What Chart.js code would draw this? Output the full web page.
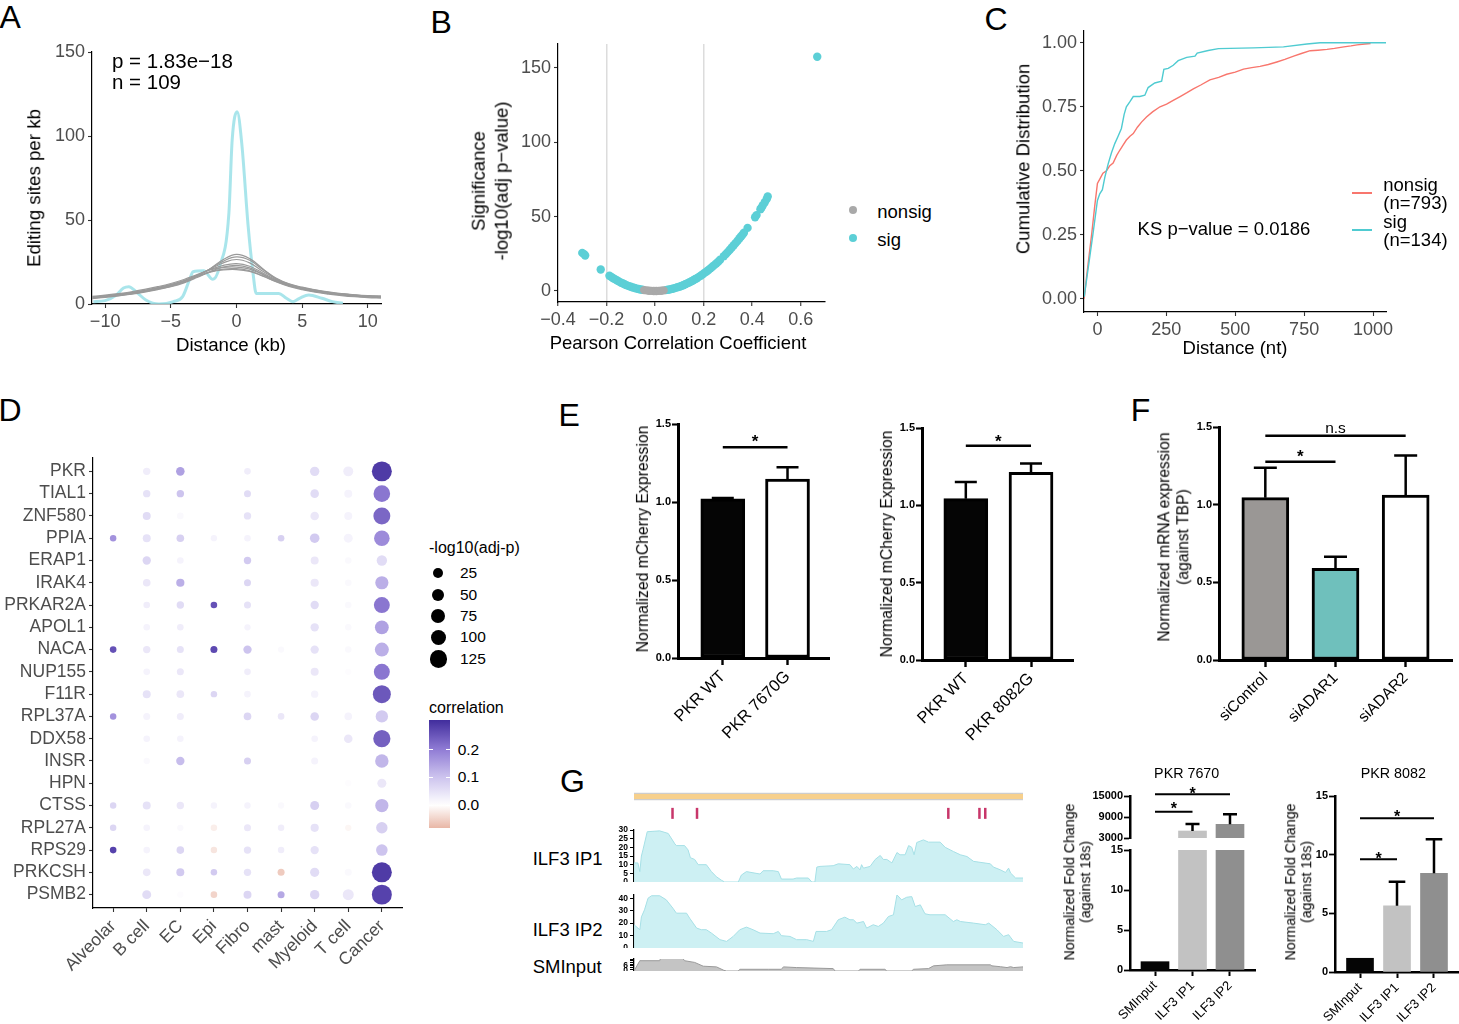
<!DOCTYPE html>
<html>
<head>
<meta charset="utf-8">
<script src="https://cdn.jsdelivr.net/npm/chart.js@4/dist/chart.umd.min.js"></script>
<style>
html, body { margin: 0; padding: 0; background: #fff; }
#fig { position: relative; width: 1459px; height: 1024px; overflow: hidden; background: #fff;
       font-family: 'Liberation Sans', Arial, Helvetica, sans-serif; color: #000; }
#fig canvas { position: absolute; }
.lbl { position: absolute; white-space: pre; z-index: 2; text-align: center; }
.letter { position: absolute; font-size: 32px; line-height: 32px; z-index: 2; }
.mark { position: absolute; z-index: 2; }
</style>
</head>
<body>
<div id="fig"></div>
<script>
// ---------- A: editing sites around ILF3 peaks vs shuffled peaks ----------
const distKb = [-11, -10, -9, -8, -7, -6, -5, -4, -3, -2, -1, 0, 1, 2, 3, 4, 5, 6, 7, 8, 9, 10, 11];
const shuffled1 = [3.5, 4.2, 5, 6, 7.3, 8.8, 10.5, 13, 16.5, 21, 26.5, 29.5, 27, 21, 15, 11.5, 9.5, 8, 6.8, 6, 5.3, 4.8, 4.5];
const shuffled2 = [3.8, 4.5, 5.3, 6.3, 7.6, 9, 10.8, 13.3, 16.8, 21, 25.5, 28, 26, 20.5, 15.5, 12, 10, 8.5, 7.2, 6.2, 5.5, 5, 4.7];
const shuffled3 = [4, 4.7, 5.5, 6.5, 7.8, 9.3, 11, 13.5, 17, 20.8, 24.5, 26.5, 24.5, 19.5, 15, 11.8, 9.8, 8.3, 7, 6, 5.3, 4.8, 4.5];
const shuffled4 = [4.2, 4.9, 5.8, 6.9, 8.2, 9.8, 11.6, 14, 17.2, 20.5, 23, 24, 22.5, 18.5, 14.5, 11.5, 9.5, 8, 6.8, 5.8, 5.1, 4.6, 4.3];
const shuffled5 = [3.2, 4, 4.8, 5.8, 7.1, 8.6, 10.3, 12.6, 15.8, 19.3, 22, 23, 21.5, 17.8, 14, 11, 9, 7.5, 6.3, 5.4, 4.7, 4.2, 3.9];
const shuffled6 = [4.5, 5.3, 6.2, 7.3, 8.7, 10.3, 12.2, 14.6, 17.5, 20.3, 21.8, 22, 20.8, 17.5, 14, 11.2, 9.2, 7.8, 6.6, 5.7, 5, 4.5, 4.2];
const shuffled7 = [3.5, 4.3, 5.2, 6.2, 7.5, 9, 10.8, 13.2, 16.2, 19.2, 20.8, 21, 19.8, 16.8, 13.3, 10.5, 8.5, 7, 5.9, 5, 4.3, 3.8, 3.5];
const shuffled8 = [4, 4.8, 5.7, 6.7, 8, 9.6, 11.5, 13.8, 16.5, 19, 20.3, 20.5, 19.4, 16.6, 13.5, 10.8, 8.9, 7.4, 6.3, 5.4, 4.7, 4.2, 3.9];
const ilf3Kb = [-10.9, -10, -9.2, -8.6, -8.2, -7.6, -6.9, -5.9, -4.8, -4.1, -3.6, -3.3, -2.5, -1.8, -1.3, -0.58, -0.33, 0.05, 0.4, 0.89, 1.26, 1.5, 2.1, 3.2, 3.8, 4.3, 4.8, 5.5, 6.5, 7.3, 8.1];
const ilf3Density = [1.4, 2, 5, 9.5, 10.3, 7, 2.4, 0, 1.4, 4.4, 14, 19.2, 19.8, 14.7, 22, 54, 97.6, 114.5, 95.6, 46, 18.3, 6.3, 6.3, 6.3, 3.4, 1.4, 3.4, 5.4, 3.4, 1.4, 0.4];

// ---------- B: volcano ----------
const corrNonsig = [-0.045, -0.035, -0.025, -0.015, -0.005, 0.005, 0.015, 0.025, 0.035];
const logpNonsig = [0.6, 0.4, 0.2, 0.1, 0, 0, 0.1, 0.2, 0.4];
const corrSig = [-0.300, -0.293, -0.288, -0.224, -0.188, -0.180, -0.172, -0.164, -0.156, -0.148, -0.140, -0.132, -0.124, -0.116, -0.108, -0.100, -0.092, -0.084, -0.076, -0.068, -0.060, -0.052,
  0.044, 0.052, 0.060, 0.068, 0.076, 0.084, 0.092, 0.100, 0.108, 0.116, 0.124, 0.132, 0.140, 0.148, 0.156, 0.164, 0.172, 0.180, 0.188, 0.196, 0.204, 0.212, 0.220, 0.228, 0.236, 0.244, 0.252, 0.260, 0.268,
  0.283, 0.292, 0.300, 0.308, 0.316, 0.324, 0.332, 0.340, 0.348, 0.354, 0.360, 0.366, 0.381, 0.412, 0.418, 0.434, 0.438, 0.444, 0.452, 0.460, 0.464, 0.668];
const logpSig = [25.6, 24.8, 23.9, 14.4, 10.2, 9.4, 8.6, 7.8, 7.0, 6.3, 5.6, 5.0, 4.4, 3.8, 3.3, 2.8, 2.4, 2.0, 1.6, 1.3, 1.0, 0.8,
  0.6, 0.8, 1.0, 1.4, 1.7, 2.1, 2.5, 2.9, 3.4, 3.9, 4.5, 5.1, 5.7, 6.4, 7.1, 7.9, 8.6, 9.5, 10.3, 11.2, 12.2, 13.1, 14.1, 15.2, 16.3, 17.4, 18.5, 19.7, 21.0,
  23.4, 24.9, 26.3, 27.7, 29.2, 30.7, 32.2, 33.8, 35.4, 36.6, 37.8, 39.1, 42.4, 49.6, 51.0, 55.0, 56.0, 57.6, 59.7, 61.8, 63.5, 157.4];

// ---------- C: cumulative distribution of distances ----------
const nonsigDist = [-48, -40, -30, -20, -10, 0, 10, 20, 33, 45, 57, 70, 81, 93, 105, 118, 130, 145, 160, 178, 200, 227, 251, 275, 300, 325, 348, 375, 408, 440, 469, 500, 530, 560, 590, 620, 651, 680, 712, 740, 772, 800, 833, 860, 894, 920, 942, 970, 991];
const nonsigCdf = [0, 0.08, 0.17, 0.26, 0.36, 0.45, 0.47, 0.49, 0.50, 0.52, 0.53, 0.56, 0.58, 0.60, 0.62, 0.635, 0.645, 0.67, 0.69, 0.71, 0.73, 0.75, 0.76, 0.775, 0.79, 0.805, 0.82, 0.835, 0.855, 0.865, 0.877, 0.885, 0.897, 0.903, 0.908, 0.915, 0.925, 0.935, 0.948, 0.958, 0.969, 0.971, 0.974, 0.978, 0.984, 0.988, 0.992, 0.995, 0.997];
const sigDist = [-48, -16, 0, 8.5, 18, 27, 39, 51, 63, 75, 87, 97, 105, 118, 130, 154, 172, 184, 208, 233, 241, 257, 275, 293, 324, 354, 362, 402, 439, 566, 675, 760, 808, 1047];
const sigCdf = [0.007, 0.254, 0.384, 0.41, 0.426, 0.475, 0.527, 0.57, 0.606, 0.635, 0.665, 0.72, 0.75, 0.77, 0.79, 0.79, 0.795, 0.825, 0.843, 0.85, 0.896, 0.9, 0.912, 0.93, 0.943, 0.948, 0.96, 0.97, 0.977, 0.98, 0.984, 0.995, 1.0, 1.0];

// ---------- D: dot plot ----------
const genes = ['PKR', 'TIAL1', 'ZNF580', 'PPIA', 'ERAP1', 'IRAK4', 'PRKAR2A', 'APOL1', 'NACA', 'NUP155', 'F11R', 'RPL37A', 'DDX58', 'INSR', 'HPN', 'CTSS', 'RPL27A', 'RPS29', 'PRKCSH', 'PSMB2'];
const cellTypes = ['Alveolar', 'B cell', 'EC', 'Epi', 'Fibro', 'mast', 'Myeloid', 'T cell', 'Cancer'];
const dotLogP = [
  [null, 8, 18, null, 2, null, 26, 32, 195],
  [null, 8, 8, null, 5, null, 18, 13, 128],
  [null, 13, 2, null, 8, null, 18, 13, 135],
  [1, 13, 10, 0, 2, 2, 28, 22, 110],
  [null, 16, 2, null, 8, null, 13, 1, 37],
  [null, 10, 15, null, 5, null, 15, 2, 73],
  [null, 2, 8, 2, 5, null, 16, 1, 117],
  [null, 2, 2, null, 0, null, 16, 1, 82],
  [2, 8, 5, 5, 16, 0, 16, 1, 85],
  [null, 2, 5, null, 2, null, 13, 0, 117],
  [null, 13, 10, 1, 2, null, 8, null, 154],
  [1, 5, 5, null, 10, 2, 18, 10, 62],
  [null, 2, 2, null, null, null, 2, 18, 139],
  [null, 0, 16, null, 5, null, 5, null, 76],
  [null, null, null, null, null, null, null, 0, 22],
  [1, 13, 8, 1, 1, 0, 22, 2, 73],
  [1, 2, 0, 1, 5, 1, 15, 0, 49],
  [2, 2, 10, 1, 8, 1, 16, null, 51],
  [null, 10, 13, 1, 8, 5, 24, 5, 195],
  [null, 22, 0, 2, 13, 5, 26, 44, 195]
];
const dotCorr = [
  [null, .03, .15, null, .03, null, .06, .03, .29],
  [null, .05, .10, null, .06, null, .06, .02, .21],
  [null, .06, .01, null, .05, null, .04, .02, .23],
  [.17, .05, .08, .02, .02, .08, .09, .02, .18],
  [null, .07, .02, null, .09, null, .04, .01, .06],
  [null, .04, .13, null, .07, null, .04, .01, .13],
  [null, .03, .06, .26, .05, null, .06, .01, .21],
  [null, .02, .03, null, .02, null, .05, .01, .15],
  [.26, .04, .05, .27, .10, .01, .05, .01, .13],
  [null, .02, .04, null, .03, null, .04, .005, .21],
  [null, .05, .04, .07, .02, null, .02, null, .25],
  [.17, .02, .03, null, .07, .04, .07, .02, .09],
  [null, .02, .02, null, null, null, .02, .04, .24],
  [null, .01, .11, null, .08, null, .02, null, .12],
  [null, null, null, null, null, null, null, .005, .04],
  [.07, .05, .04, .02, .02, .01, .08, .01, .12],
  [.07, .02, .01, -.02, .04, .03, .05, -.01, .08],
  [.28, .02, .07, -.03, .05, .03, .05, null, .10],
  [null, .04, .09, .09, .05, -.06, .06, .01, .29],
  [null, .06, .005, -.05, .07, .14, .07, .04, .28]
];
const sizeLegend = [25, 50, 75, 100, 125];
const corrLegend = [0.2, 0.1, 0.0];

// ---------- E / F: reporter and knockdown bars ----------
const e1Labels = ['PKR WT', 'PKR 7670G'];
const e1Mean = [1.021, 1.147];
const e1Sem = [0.004, 0.075];
const e2Labels = ['PKR WT', 'PKR 8082G'];
const e2Mean = [1.043, 1.213];
const e2Sem = [0.108, 0.058];
const fLabels = ['siControl', 'siADAR1', 'siADAR2'];
const fMean = [1.045, 0.590, 1.062];
const fSem = [0.193, 0.075, 0.254];

// ---------- G: ILF3 CLIP tracks and RIP-qPCR ----------
const sitePos = [9.9, 16.2, 80.8, 88.8, 90.3];
const ip1Pos = [0, 0.2, 1, 1.5, 1.9, 2.3, 3.4, 6.6, 8.8, 10.5, 10.9, 13, 13.9, 14.5, 15.6, 16.5, 18.6, 19.9, 21.2, 22.5, 23.3, 26.8, 27.6, 28.9, 32.4, 33.2, 35.8, 37.1, 37.9, 40.9, 41.8, 44.8, 45.7, 46.5, 47, 47.8, 51.2, 52.5, 55.5, 56.4, 57.3, 58.1, 58.5, 59, 60.7, 62, 63.3, 64.1, 65, 66.3, 67.6, 68.4, 69.7, 70.6, 71.4, 72, 72.7, 74.4, 75.7, 78.7, 80, 82.1, 83.9, 85.6, 87.3, 91.6, 92.4, 94.2, 95.5, 96.3, 96.8, 98.1, 100];
const ip1Cov = [11, 11, 11, 6, 15, 18.5, 29, 29.5, 28, 22, 21, 21, 18.5, 14, 13, 10, 10, 6, 3, 1, 0, 0, 4, 6, 4.6, 6.5, 6.5, 6, 1.7, 1.7, 2.3, 2.3, 0, 0, 8.6, 9, 9.4, 10.5, 10, 7.5, 9, 7, 10, 8, 9, 13, 15.3, 13, 13, 11, 17, 15.7, 15.7, 21, 20, 15.7, 22.8, 24.3, 23, 23, 20, 17.6, 15.7, 14.7, 11.9, 10.5, 8.6, 7, 5.5, 8, 5.2, 2.3, 2.3];
const ip2Pos = [0, 0.2, 1.5, 1.9, 2.7, 3.6, 4.5, 6.6, 8.3, 10, 10.9, 13.5, 14.3, 15.2, 16.1, 17.3, 18.6, 19.9, 22.1, 23.8, 25.5, 27.2, 28.9, 30.6, 32.4, 35.8, 37.1, 37.9, 40.1, 41.8, 44.4, 46.1, 46.8, 49.5, 50.8, 52.5, 54.2, 55.5, 56.4, 57.3, 59, 59.8, 61.5, 62.8, 64.1, 65.4, 66.7, 67.6, 68.8, 70.1, 71.4, 72.3, 73.6, 74.8, 76.1, 80, 82.1, 83, 83.9, 87.3, 90.3, 91.2, 93.3, 95, 96.3, 97.6, 100];
const ip2Cov = [18.7, 18.7, 14.7, 25, 30.7, 40, 42, 42, 38.7, 32, 28, 28, 24, 20, 16, 14.7, 14.7, 12, 6.7, 5.3, 9.3, 14.7, 16.8, 14.7, 12, 11.5, 13.3, 9.9, 9.3, 6.7, 6.7, 5.3, 13.3, 13.3, 14.7, 22.7, 24.8, 22.7, 22.7, 20, 21.3, 16, 18.7, 17.3, 20, 25.3, 26.7, 42.7, 38.7, 40.8, 41.3, 33.3, 34.7, 27.5, 26.7, 26.7, 21.3, 22.7, 21.3, 20, 18.7, 20, 14.7, 9.3, 10.7, 5.3, 4];
const smPos = [0, 0.2, 1.5, 6.6, 7, 12.2, 13, 15.6, 17.8, 21.2, 23.1, 23.8, 26.8, 27.2, 34.5, 37.9, 38.4, 41.8, 51.2, 51.7, 57.7, 58.1, 64.5, 65, 71.4, 71.8, 75.7, 77, 80.4, 91.6, 92, 94.2, 95.9, 96.8, 97.6, 100];
const smCov = [0, 0, 12, 12, 16.8, 16.8, 12, 10, 5.6, 4.8, 0.8, 0, 0, 2, 2, 2, 4.8, 4, 2.8, 0, 0, 2, 2, 0, 0, 2, 2.8, 6, 7.2, 7.2, 6, 5, 4, 5, 4, 4.8];
const ripLabels = ['SMInput', 'ILF3 IP1', 'ILF3 IP2'];
const rip7670Mean = [1.04, 5000, 6914];
const rip7670Sem = [0, 2000, 2857];
const rip8082Mean = [1.17, 5.65, 8.41];
const rip8082Sem = [0, 2.05, 2.9];

// ---------- helpers ----------
const FONT = "'Liberation Sans', Arial, Helvetica, sans-serif";
Chart.defaults.font.family = FONT;
Chart.defaults.animation = false;
Chart.defaults.events = [];
Chart.defaults.plugins.legend.display = false;
Chart.defaults.plugins.tooltip.enabled = false;

const fig = document.getElementById('fig');

// place a chart so that its plot area lands exactly on `area` (page px)
function mount(area, margin, config) {
  const [x0, y0, x1, y1] = area;
  const [ml, mt, mr, mb] = margin;
  const w = x1 - x0 + ml + mr, h = y1 - y0 + mt + mb;
  const c = document.createElement('canvas');
  c.width = w; c.height = h;
  c.style.left = (x0 - ml) + 'px'; c.style.top = (y0 - mt) + 'px';
  c.style.width = w + 'px'; c.style.height = h + 'px';
  fig.appendChild(c);
  const o = config.options;
  const xHidden = o.scales.x.display === false;
  const yHidden = o.scales.y.display === false;
  o.responsive = false;
  o.layout = { autoPadding: false, padding: { left: yHidden ? ml : 0, top: mt, right: mr, bottom: xHidden ? mb : 0 } };
  o.scales.x.afterFit = s => { s.height = xHidden ? 0 : mb; s.paddingLeft = 0; s.paddingRight = 0; };
  o.scales.y.afterFit = s => { s.width = yHidden ? 0 : ml; s.paddingTop = 0; s.paddingBottom = 0; };
  return new Chart(c, config);
}

function label(str, x, y, o = {}) {
  const d = document.createElement('div');
  d.className = 'lbl';
  d.textContent = str;
  const size = o.size || 18.5;
  d.style.fontSize = size + 'px';
  d.style.lineHeight = (o.lh || size * 1.15) + 'px';
  d.style.left = x + 'px';
  d.style.top = y + 'px';
  if (o.weight) d.style.fontWeight = o.weight;
  const tx = o.align === 'left' ? '0' : '-50%';
  if (o.align === 'left') d.style.textAlign = 'left';
  d.style.transform = `translate(${tx}, -50%)` + (o.rot ? ` rotate(${o.rot}deg)` : '');
  fig.appendChild(d);
}

function letter(ch, left, top) {
  const d = document.createElement('div');
  d.className = 'letter';
  d.textContent = ch;
  d.style.left = left + 'px';
  d.style.top = top + 'px';
  fig.appendChild(d);
}

function mark(left, top, w, h, css) {
  const d = document.createElement('div');
  d.className = 'mark';
  d.style.cssText += `left:${left}px;top:${top}px;width:${w}px;height:${h}px;` + css;
  fig.appendChild(d);
}

const minus = v => (v < 0 ? '\u2212' : '') + Math.abs(v);
const fixed = n => v => (v < 0 ? '\u2212' : '') + Math.abs(v).toFixed(n);
const pts = (xs, ys) => xs.map((x, i) => ({ x, y: ys[i] }));

function ggScale(min, max, ticks, fmt, extraGrid) {
  return {
    type: 'linear', min, max,
    afterBuildTicks: s => { s.ticks = ticks.map(v => ({ value: v })); },
    ticks: { autoSkip: false, maxRotation: 0, minRotation: 0, color: '#4d4d4d', font: { size: 18 }, padding: 3, callback: fmt },
    grid: Object.assign({ display: true, drawOnChartArea: false, drawTicks: true, tickLength: 4, tickColor: '#333', tickWidth: 1.1 }, extraGrid || {}),
    border: { display: true, color: '#000', width: 1.2 }
  };
}

// error bars (upper half, Prism style) and significance brackets
const annot = {
  id: 'annot',
  afterDatasetsDraw(chart, args, o) {
    const { ctx, chartArea: a } = chart;
    const xs = chart.scales.x, ys = chart.scales.y;
    if (o.errors) {
      ctx.save();
      ctx.beginPath(); ctx.rect(a.left, a.top - 2, a.right - a.left, a.bottom - a.top + 2); ctx.clip();
      ctx.strokeStyle = '#000'; ctx.lineWidth = o.errWidth;
      chart.data.datasets[0].data.forEach((p, i) => {
        const e = o.errors[i];
        if (!e) return;
        const px = xs.getPixelForValue(p.x);
        const top = ys.getPixelForValue(p.y + e), base = ys.getPixelForValue(p.y);
        ctx.beginPath();
        ctx.moveTo(px, base); ctx.lineTo(px, top);
        ctx.moveTo(px - o.cap, top); ctx.lineTo(px + o.cap, top);
        ctx.stroke();
      });
      ctx.restore();
    }
    (o.brackets || []).forEach(b => {
      const x0 = xs.getPixelForValue(b.from), x1 = xs.getPixelForValue(b.to), y = ys.getPixelForValue(b.y);
      ctx.save();
      ctx.strokeStyle = '#000'; ctx.lineWidth = o.bracketWidth || 2.5;
      ctx.beginPath(); ctx.moveTo(x0, y); ctx.lineTo(x1, y); ctx.stroke();
      ctx.fillStyle = '#000';
      ctx.font = b.font || `bold 17px ${FONT}`;
      ctx.textAlign = 'center'; ctx.textBaseline = 'alphabetic';
      ctx.fillText(b.text, (x0 + x1) / 2, y + b.ty);
      ctx.restore();
    });
  }
};

function prism(area, margin, c) {
  const lw = c.lw || 3;
  return mount(area, margin, {
    type: 'bar',
    data: { datasets: [{
      data: c.means.map((m, i) => ({ x: i, y: m })),
      backgroundColor: c.fill, borderColor: '#000', borderWidth: c.bw ?? lw, borderSkipped: false,
      barThickness: c.bar, clip: 0
    }] },
    options: {
      scales: {
        x: {
          type: 'linear', min: c.x[0], max: c.x[1], offset: false, display: c.showX !== false,
          afterBuildTicks: s => { s.ticks = c.labels.map((_, i) => ({ value: i })); },
          ticks: { autoSkip: false, minRotation: 45, maxRotation: 45, color: '#000', padding: 2, font: { size: c.xFont || 16.5 }, callback: v => c.labels[v] },
          grid: { display: true, offset: false, drawOnChartArea: false, drawTicks: true, tickLength: c.xTick || 7, tickWidth: lw * 0.8, tickColor: '#000' },
          border: { display: true, color: '#000', width: lw }
        },
        y: {
          type: 'linear', min: c.y[0], max: c.y[1],
          afterBuildTicks: s => { s.ticks = c.ticks.map(v => ({ value: v })); },
          ticks: { autoSkip: false, color: '#000', padding: 1, font: { size: 11, weight: 'bold' }, callback: c.fmt },
          grid: { display: true, drawOnChartArea: false, drawTicks: true, tickLength: 6, tickWidth: lw * 0.7, tickColor: '#000' },
          border: { display: true, color: '#000', width: lw }
        }
      },
      plugins: { annot: { errors: c.errs, cap: c.cap, errWidth: c.ew || 2.5, brackets: c.brackets || [], bracketWidth: c.bkw } }
    },
    plugins: [annot]
  });
}

// colour scale for correlation (white at 0, purple positive, salmon negative)
const corrStops = [[-0.1, [228, 168, 148]], [0, [255, 255, 255]], [0.1, [205, 196, 238]], [0.2, [145, 125, 213]], [0.31, [64, 44, 156]]];
function corrColor(v) {
  if (v <= corrStops[0][0]) return `rgb(${corrStops[0][1].join(',')})`;
  for (let i = 1; i < corrStops.length; i++) {
    const [v1, c1] = corrStops[i], [v0, c0] = corrStops[i - 1];
    if (v <= v1) {
      const t = (v - v0) / (v1 - v0);
      return `rgb(${c0.map((c, k) => Math.round(c + (c1[k] - c) * t)).join(',')})`;
    }
  }
  return `rgb(${corrStops[corrStops.length - 1][1].join(',')})`;
}
const dotRadius = v => Math.sqrt(10 + 0.46 * v);

// ---------- panel A ----------
const grayProfiles = [shuffled1, shuffled2, shuffled3, shuffled4, shuffled5, shuffled6, shuffled7, shuffled8];
mount([92, 52, 381, 304], [92, 10, 8, 40], {
  type: 'scatter',
  data: { datasets: [
    ...grayProfiles.map(p => ({ data: pts(distKb, p), showLine: true, pointRadius: 0, borderColor: '#9a9a9a', borderWidth: 1.2, tension: 0.4 })),
    { data: pts(ilf3Kb, ilf3Density), showLine: true, pointRadius: 0, borderColor: 'rgba(160,226,233,0.9)', borderWidth: 3, cubicInterpolationMode: 'monotone' }
  ] },
  options: { scales: {
    x: ggScale(-11, 11, [-10, -5, 0, 5, 10], minus),
    y: ggScale(0, 150, [0, 50, 100, 150], minus)
  } }
});

// ---------- panel B ----------
mount([558, 44, 825, 302], [50, 10, 10, 40], {
  type: 'scatter',
  data: { datasets: [
    { data: pts(corrNonsig, logpNonsig), pointRadius: 4.2, backgroundColor: '#a9a9a9', borderWidth: 0 },
    { data: pts(corrSig, logpSig), pointRadius: 4.2, backgroundColor: '#5ccfd6', borderWidth: 0 }
  ] },
  options: { scales: {
    x: ggScale(-0.4, 0.7, [-0.4, -0.2, 0, 0.2, 0.4, 0.6], fixed(1), {
      drawOnChartArea: true, lineWidth: 1.5,
      color: ctx => (ctx.tick && Math.abs(Math.abs(ctx.tick.value) - 0.2) < 1e-6) ? '#dcdcdc' : 'rgba(0,0,0,0)'
    }),
    y: ggScale(-7.4, 166, [0, 50, 100, 150], minus)
  } }
});

// ---------- panel C ----------
mount([1084, 31, 1386, 312], [55, 10, 12, 40], {
  type: 'scatter',
  data: { datasets: [
    { data: pts(sigDist, sigCdf), showLine: true, pointRadius: 0, borderColor: '#4fcbd1', borderWidth: 1.4, tension: 0 },
    { data: pts(nonsigDist, nonsigCdf), showLine: true, pointRadius: 0, borderColor: '#f8766d', borderWidth: 1.4, tension: 0 }
  ] },
  options: { scales: {
    x: ggScale(-48.7, 1047, [0, 250, 500, 750, 1000], minus),
    y: ggScale(-0.052, 1.046, [0, 0.25, 0.5, 0.75, 1], fixed(2))
  } }
});

// ---------- panel D ----------
const bubbles = [];
genes.forEach((g, gi) => cellTypes.forEach((ct, ci) => {
  const v = dotLogP[gi][ci];
  if (v === null) return;
  bubbles.push({ x: ci, y: gi, r: dotRadius(v), corr: dotCorr[gi][ci] });
}));
const dX = ggScale(-0.6, 8.6, cellTypes.map((_, i) => i), v => cellTypes[v]);
dX.ticks.minRotation = 45; dX.ticks.maxRotation = 45; dX.ticks.font = { size: 17.5 }; dX.ticks.padding = 4;
const dY = ggScale(-0.6, 19.6, genes.map((_, i) => i), v => genes[v]);
dY.reverse = true; dY.ticks.font = { size: 17.5 };
mount([93, 458, 402, 908], [93, 5, 10, 112], {
  type: 'bubble',
  data: { datasets: [{ data: bubbles, borderWidth: 0, backgroundColor: ctx => ctx.raw ? corrColor(ctx.raw.corr) : '#000' }] },
  options: { scales: { x: dX, y: dY } }
});

// ---------- panel E ----------
prism([678, 424, 829, 658], [40, 10, 10, 95], {
  labels: e1Labels, means: e1Mean, errs: e1Sem, fill: ['#050505', '#ffffff'], bar: 44, cap: 11,
  x: [-0.692, 1.641], y: [0, 1.5], ticks: [0, 0.5, 1, 1.5], fmt: v => v.toFixed(1),
  brackets: [{ from: 0, to: 1, y: 1.351, text: '*', ty: 0 }]
});
prism([922, 428, 1073, 660], [40, 10, 10, 95], {
  labels: e2Labels, means: e2Mean, errs: e2Sem, fill: ['#050505', '#ffffff'], bar: 44, cap: 11,
  x: [-0.672, 1.644], y: [0, 1.5], ticks: [0, 0.5, 1, 1.5], fmt: v => v.toFixed(1),
  brackets: [{ from: 0, to: 1, y: 1.385, text: '*', ty: 1 }]
});

// ---------- panel F ----------
prism([1219, 427, 1452, 660], [40, 10, 7, 95], {
  labels: fLabels, means: fMean, errs: fSem, fill: ['#9a9795', '#6fc0bc', '#ffffff'], bar: 47, cap: 11.5,
  x: [-0.66, 2.66], y: [0, 1.5], ticks: [0, 0.5, 1, 1.5], fmt: v => v.toFixed(1), xFont: 15.5,
  brackets: [
    { from: 0, to: 2, y: 1.444, text: 'n.s', ty: -2.4, font: `15.5px ${FONT}` },
    { from: 0, to: 1, y: 1.277, text: '*', ty: 0.5 }
  ]
});

// ---------- panel G: tracks ----------
function track(area, xsArr, ysArr, ymax, ticks, fmt, fill, line) {
  return mount(area, [30, 4, 2, 0], {
    type: 'scatter',
    data: { datasets: [{ data: pts(xsArr, ysArr), showLine: true, pointRadius: 0, borderColor: line, borderWidth: 1, backgroundColor: fill, fill: 'origin', tension: 0 }] },
    options: { scales: {
      x: { type: 'linear', min: 0, max: 100, display: false },
      y: {
        type: 'linear', min: 0, max: ymax,
        afterBuildTicks: s => { s.ticks = ticks.map(v => ({ value: v })); },
        ticks: { autoSkip: false, color: '#000', padding: 2, font: { size: 8.5, weight: 'bold' }, callback: fmt },
        grid: { display: true, drawOnChartArea: false, drawTicks: true, tickLength: 4, tickColor: '#000', tickWidth: 1 },
        border: { display: true, color: '#000', width: 1.3 }
      }
    } }
  });
}
// gene body and editing sites
mount([634, 790, 1023, 822], [0, 0, 0, 0], {
  type: 'scatter',
  data: { datasets: [
    { data: [{ x: 0, y: 0.8 }, { x: 100, y: 0.8 }], showLine: true, pointRadius: 0, borderColor: '#f7d08c', borderWidth: 5 },
    { data: [{ x: 0, y: 0.8 }, { x: 100, y: 0.8 }], showLine: true, pointRadius: 0, borderColor: '#cdcdcd', borderWidth: 7.5 },
    { data: sitePos.map(x => ({ x, y: 0.27 })), pointStyle: 'line', rotation: 90, pointRadius: 5.5, borderWidth: 2.5, borderColor: '#c8366a' }
  ] },
  options: { scales: {
    x: { type: 'linear', min: 0, max: 100, display: false },
    y: { type: 'linear', min: 0, max: 1, display: false }
  } }
});
track([634, 830, 1023, 882], ip1Pos, ip1Cov, 30, [0, 5, 10, 15, 20, 25, 30], v => v, 'rgba(196,237,241,0.85)', '#a6e0e6');
track([634, 895, 1023, 948], ip2Pos, ip2Cov, 42.6, [0, 10, 20, 30, 40], v => v, 'rgba(196,237,241,0.85)', '#a6e0e6');
track([634, 959, 1023, 971], smPos, smCov, 14, [0, 2, 4, 6, 8, 10, 12, 14], v => (v === 0 || v === 6) ? v : '', '#c4c4c4', '#9a9a9a');

// ---------- panel G: RIP-qPCR ----------
const ripFill = ['#050505', '#c2c2c2', '#8f8f8f'];
prism([1130, 796, 1255, 838], [45, 15, 5, 8], {
  labels: ripLabels, means: rip7670Mean, errs: rip7670Sem, fill: ripFill, bw: 0, bar: 28, cap: 7, lw: 2.5, ew: 2.5, showX: false,
  x: [-0.667, 2.667], y: [3000, 15000], ticks: [3000, 9000, 15000], fmt: v => v, bkw: 2,
  brackets: [
    { from: 0, to: 2, y: 15486, text: '*', ty: 4.6, font: `bold 16px ${FONT}` },
    { from: 0, to: 1, y: 10514, text: '*', ty: 2.5, font: `bold 16px ${FONT}` }
  ]
});
prism([1130, 850, 1255, 970], [45, 5, 5, 60], {
  labels: ripLabels, means: rip7670Mean, errs: rip7670Sem, fill: ripFill, bw: 0, bar: 28, cap: 7, lw: 2.5, ew: 2.5,
  x: [-0.667, 2.667], y: [0, 15], ticks: [0, 5, 10, 15], fmt: v => v, xFont: 13, xTick: 6
});
prism([1335, 796, 1459, 972], [35, 10, 0, 55], {
  labels: ripLabels, means: rip8082Mean, errs: rip8082Sem, fill: ripFill, bw: 0, bar: 27, cap: 8.3, lw: 2.5, ew: 2.5,
  x: [-0.676, 2.676], y: [0, 15], ticks: [0, 5, 10, 15], fmt: v => v, xFont: 13, xTick: 6, bkw: 2,
  brackets: [
    { from: 0, to: 2, y: 13.1, text: '*', ty: 3.3, font: `bold 16px ${FONT}` },
    { from: 0, to: 1, y: 9.6, text: '*', ty: 4.5, font: `bold 16px ${FONT}` }
  ]
});

// ---------- text: panel letters, titles, legends ----------
letter('A', -0.5, 0.8);
letter('B', 430.4, 5.8);
letter('C', 984.4, 3.1);
letter('D', -1.5, 394.3);
letter('E', 558.5, 398.8);
letter('F', 1130.8, 393.8);
letter('G', 560, 765.1);

label('p = 1.83e\u221218\nn = 109', 112, 71.5, { size: 20.5, lh: 21.7, align: 'left' });
label('Editing sites per kb', 33.6, 187.5, { size: 18.7, rot: -90 });
label('Distance (kb)', 231, 345, { size: 18.7 });

label('Significance\n-log10(adj p\u2212value)', 490, 181, { size: 18.5, lh: 23.3, rot: -90 });
label('Pearson Correlation Coefficient', 678, 343.3, { size: 18.5 });
mark(849.1, 205.8, 8.4, 8.4, 'border-radius:50%;background:#a9a9a9;');
mark(849.1, 234.1, 8.4, 8.4, 'border-radius:50%;background:#5ccfd6;');
label('nonsig', 877.3, 211.7, { size: 18.5, align: 'left' });
label('sig', 877.3, 240.1, { size: 18.5, align: 'left' });

label('Cumulative Distribution', 1023.3, 159, { size: 18.5, rot: -90 });
label('Distance (nt)', 1235, 348.3, { size: 18.5 });
label('KS p\u2212value = 0.0186', 1224, 228.8, { size: 18.5 });
mark(1352, 192, 20, 2, 'background:#f8766d;');
mark(1352, 229, 20, 2, 'background:#4fcbd1;');
label('nonsig\n(n=793)\nsig\n(n=134)', 1383.3, 212.9, { size: 18.5, lh: 18.53, align: 'left' });

// D legends
label('-log10(adj-p)', 429, 547.5, { size: 16, align: 'left' });
const legendY = [572.7, 594.7, 616, 637.3, 659];
sizeLegend.forEach((v, i) => {
  const r = dotRadius(v) + 0.3;
  mark(438.3 - r, legendY[i] - r, 2 * r, 2 * r, 'border-radius:50%;background:#000;');
  label(String(v), 460, legendY[i], { size: 15.5, align: 'left' });
});
label('correlation', 429, 707.5, { size: 16, align: 'left' });
const barTop = 0.308, barBot = -0.083;
const stops = [];
for (let i = 0; i <= 24; i++) {
  const v = barTop - (barTop - barBot) * i / 24;
  stops.push(`${corrColor(v)} ${(i / 24 * 100).toFixed(2)}%`);
}
mark(429, 720, 21, 108, `background:linear-gradient(to bottom, ${stops.join(',')});`);
corrLegend.forEach(v => {
  const y = 720 + (barTop - v) / (barTop - barBot) * 108;
  mark(429, y - 0.5, 4, 1, 'background:#fff;');
  mark(446, y - 0.5, 4, 1, 'background:#fff;');
  label(v.toFixed(1), 457.7, y, { size: 15.5, align: 'left' });
});

// E / F titles
label('Normalized mCherry Expression', 643.3, 539.3, { size: 15.75, rot: -90 });
label('Normalized mCherry Expression', 886.7, 544.2, { size: 15.75, rot: -90 });
label('Normalized mRNA expression\n(against TBP)', 1174.4, 536.5, { size: 15.7, lh: 18.7, rot: -90 });

// G labels
label('ILF3 IP1', 532.7, 859.3, { size: 18.5, align: 'left' });
label('ILF3 IP2', 532.7, 930, { size: 18.5, align: 'left' });
label('SMInput', 532.7, 967.3, { size: 18.5, align: 'left' });
label('PKR 7670', 1186.7, 773.3, { size: 14.3 });
label('PKR 8082', 1393.3, 773.3, { size: 14.3 });
label('Normalized Fold Change\n(against 18s)', 1078, 881.7, { size: 14.2, lh: 15.8, rot: -90 });
label('Normalized Fold Change\n(against 18s)', 1299, 881.7, { size: 14.2, lh: 15.8, rot: -90 });
</script>
</body>
</html>
